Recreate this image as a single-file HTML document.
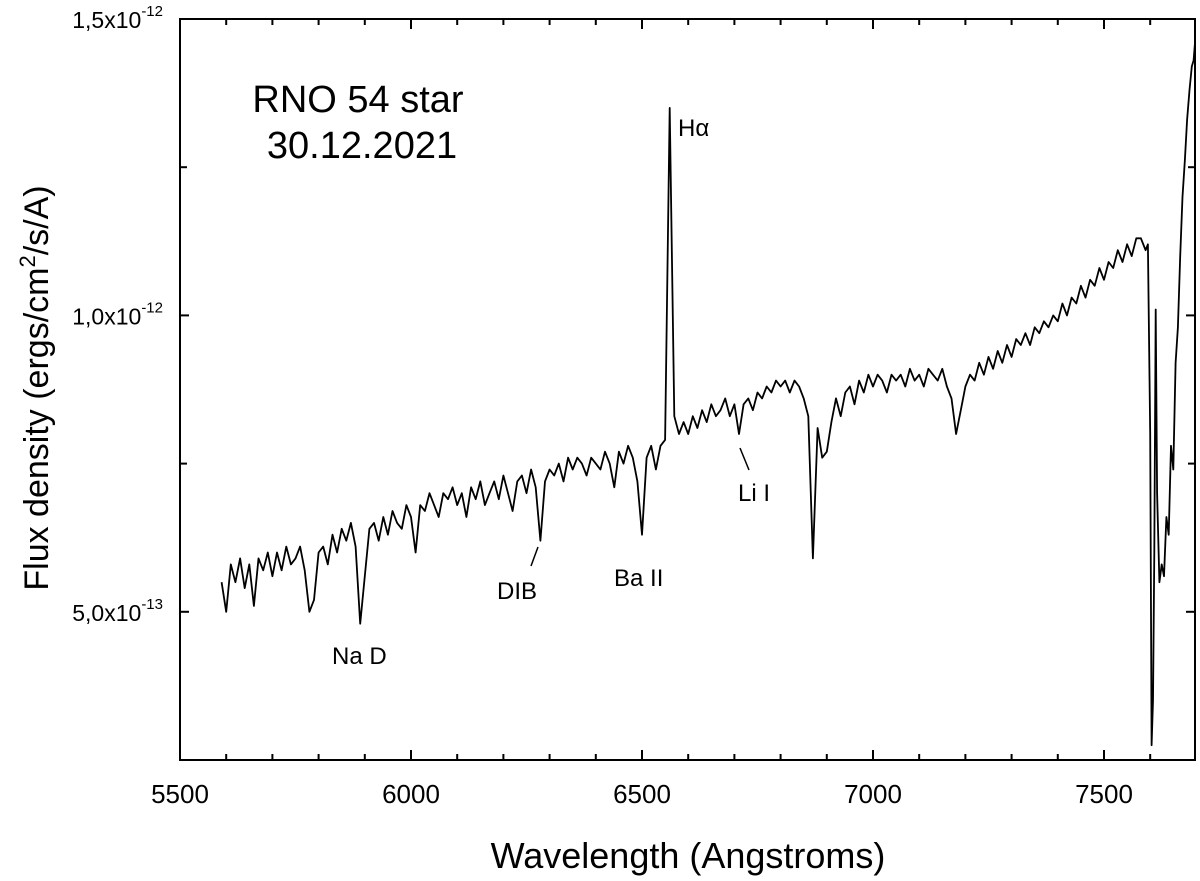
<!DOCTYPE html>
<html><head><meta charset="utf-8"><style>
html,body{margin:0;padding:0;background:#fff;}
svg{display:block;font-family:"Liberation Sans",sans-serif;}
</style></head><body>
<svg id="chart" width="1200" height="881" viewBox="0 0 1200 881">
<g id="axes"></g>
<g id="plot"></g>
<g id="annot">
<text x="358" y="112" font-size="38" text-anchor="middle">RNO 54 star</text>
<text x="362" y="158" font-size="38" text-anchor="middle">30.12.2021</text>
<text x="678" y="136" font-size="24">Hα</text>
<text x="738" y="501" font-size="24">Li I</text>
<line x1="740" y1="448" x2="749" y2="470" stroke="#000" stroke-width="1.5"/>
<text x="614" y="586" font-size="24">Ba II</text>
<text x="497" y="599" font-size="24">DIB</text>
<line x1="531" y1="566" x2="538" y2="547" stroke="#000" stroke-width="1.5"/>
<text x="332" y="664" font-size="24">Na D</text>
</g>
<text x="688" y="868" font-size="36" text-anchor="middle">Wavelength (Angstroms)</text>
<text transform="translate(48,388) rotate(-90)" font-size="34" text-anchor="middle">Flux density (ergs/cm<tspan font-size="22" dy="-13">2</tspan><tspan dy="13">/s/A)</tspan></text>
</svg>
<script>
const xMin = 5500, xMax = 7697, yMin = 2.5, yMax = 15;
const xTickVals = [5500, 6000, 6500, 7000, 7500];
const xTickLabels = ["5500", "6000", "6500", "7000", "7500"];
const yTickVals = [5, 10, 15];
const yTickMant = ["5,0x10", "1,0x10", "1,5x10"];
const yTickExp = ["-13", "-12", "-12"];
// regular part: 5590..7590 step 10 (flux in 1e-13 units)
const waveStart = 5590, waveStep = 10;
const fluxRegular = [5.5,5.0,5.8,5.5,5.9,5.4,5.8,5.1,5.9,5.7,6.0,5.6,6.0,5.7,6.1,5.8,5.9,6.1,5.7,5.0,
5.2,6.0,6.1,5.8,6.3,6.0,6.4,6.2,6.5,6.1,4.8,5.6,6.4,6.5,6.2,6.6,6.3,6.7,6.5,6.4,
6.8,6.6,6.0,6.8,6.7,7.0,6.8,6.6,7.0,6.9,7.1,6.8,7.0,6.6,7.1,6.9,7.2,6.8,7.0,7.2,
6.9,7.3,7.0,6.7,7.2,7.3,7.0,7.4,7.1,6.2,7.2,7.4,7.3,7.5,7.2,7.6,7.4,7.6,7.5,7.3,
7.6,7.5,7.4,7.7,7.5,7.1,7.7,7.5,7.8,7.6,7.2,6.3,7.6,7.8,7.4,7.8,7.9,13.5,8.3,8.0,
8.2,8.0,8.3,8.1,8.4,8.2,8.5,8.3,8.4,8.6,8.3,8.5,8.0,8.5,8.6,8.4,8.7,8.6,8.8,8.7,
8.9,8.8,8.9,8.7,8.9,8.8,8.6,8.3,5.9,8.1,7.6,7.7,8.2,8.6,8.3,8.7,8.8,8.5,8.9,8.7,
9.0,8.8,9.0,8.9,8.7,9.0,8.9,9.0,8.8,9.1,8.9,9.0,8.8,9.1,9.0,8.9,9.1,8.8,8.6,8.0,
8.4,8.8,9.0,8.9,9.2,9.0,9.3,9.1,9.4,9.2,9.5,9.3,9.6,9.5,9.7,9.5,9.8,9.7,9.9,9.8,
10.0,9.9,10.2,10.0,10.3,10.2,10.5,10.3,10.6,10.5,10.8,10.6,10.9,10.8,11.1,10.9,11.2,11.0,11.3,11.3,11.1];
const waveTail = [7595,7600,7603,7606,7609,7612,7615,7620,7625,7630,7635,7640,7645,7650,7655,7660,7665,7670,7675,7680,7685,7690,7694,7697];
const fluxTail = [11.2,8.0,2.75,3.5,6.0,10.1,7.0,5.5,5.8,5.6,6.6,6.3,7.8,7.4,9.2,9.8,11.0,12.0,12.6,13.3,13.8,14.2,14.3,14.6];

const X0 = 180, X1 = 1195, Y0 = 19, Y1 = 760;
const sx = v => X0 + (v - xMin) / (xMax - xMin) * (X1 - X0);
const sy = v => Y1 - (v - yMin) / (yMax - yMin) * (Y1 - Y0);
const NS = "http://www.w3.org/2000/svg";
const axes = document.getElementById('axes');
const plot = document.getElementById('plot');
function mk(tag, attrs, parent) {
  const e = document.createElementNS(NS, tag);
  for (const k in attrs) e.setAttribute(k, attrs[k]);
  parent.appendChild(e);
  return e;
}
const frame = mk('rect', {x: X0, y: Y0, width: X1 - X0, height: Y1 - Y0, fill: 'none', stroke: '#000', 'stroke-width': 2}, axes);


for (let v = 5500; v <= xMax; v += 100) {
  const major = v % 500 === 0;
  const L = major ? 10 : 6;
  const x = sx(v);
  const t1 = mk('line', {x1: x, y1: Y1, x2: x, y2: Y1 - L, stroke: '#000', 'stroke-width': 2}, axes);
  
  
  const t2 = mk('line', {x1: x, y1: Y0, x2: x, y2: Y0 + L, stroke: '#000', 'stroke-width': 2}, axes);
  
  
}
xTickVals.forEach((v, i) => {
  const t = mk('text', {x: sx(v), y: 803, 'font-size': 26, 'text-anchor': 'middle'}, axes);
  t.textContent = xTickLabels[i];
  
  
});
for (let v = 2.5; v <= yMax + 0.01; v += 2.5) {
  const major = Math.abs(v % 5) < 0.01;
  const L = major ? 9 : 7;
  const y = sy(v);
  const t1 = mk('line', {x1: X0, y1: y, x2: X0 + L, y2: y, stroke: '#000', 'stroke-width': 2}, axes);
  
  
  const t2 = mk('line', {x1: X1, y1: y, x2: X1 - L, y2: y, stroke: '#000', 'stroke-width': 2}, axes);
  
  
}
yTickVals.forEach((v, i) => {
  const t = mk('text', {x: 163, y: sy(v) + 9, 'font-size': 23, 'text-anchor': 'end'}, axes);
  t.textContent = yTickMant[i];
  const s = mk('tspan', {'font-size': 15, dy: -12}, t);
  s.textContent = yTickExp[i];
  
  
});
const pts = [];
fluxRegular.forEach((f, i) => pts.push([waveStart + i * waveStep, f]));
waveTail.forEach((w, i) => pts.push([w, fluxTail[i]]));
const d = pts.map((p, i) => (i ? 'L' : 'M') + sx(p[0]).toFixed(1) + ',' + sy(p[1]).toFixed(1)).join('');
const line = mk('path', {d: d, fill: 'none', stroke: '#000', 'stroke-width': 1.8, 'stroke-linejoin': 'round'}, plot);


</script>
</body></html>
